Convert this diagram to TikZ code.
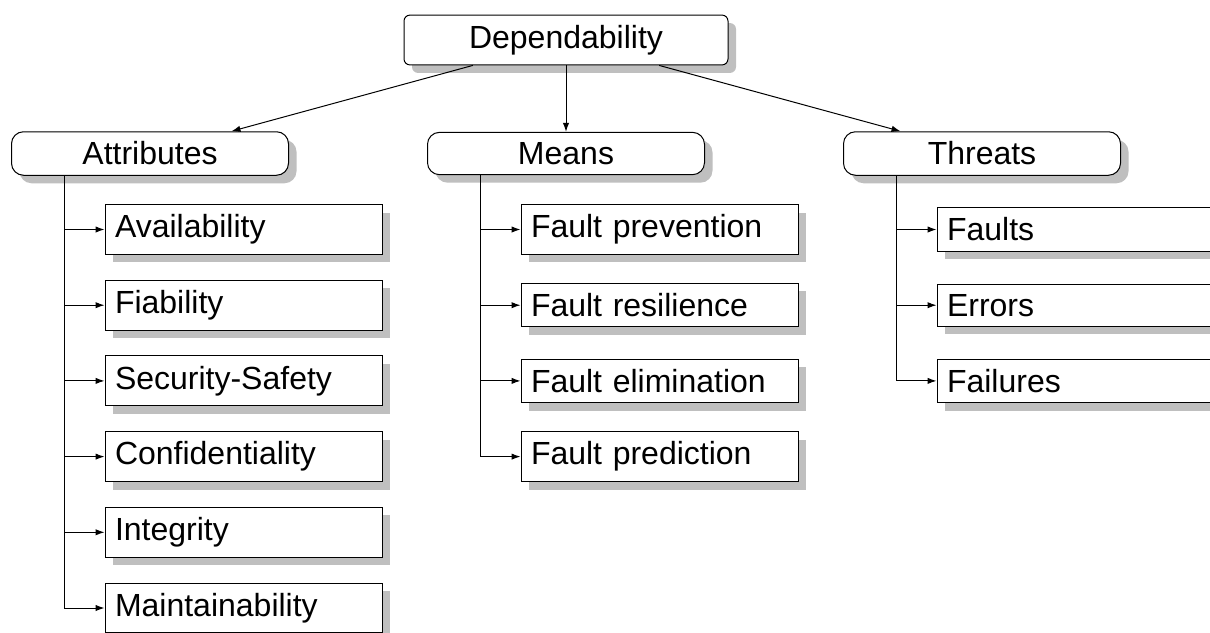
\documentclass[tikz,border=0pt]{standalone}
\usepackage{fontspec}
\setmainfont{Liberation Sans}
\usetikzlibrary{arrows.meta,shadows}
\begin{document}
\begin{tikzpicture}[x=0.5pt,y=-0.5pt,line width=0.5pt,font=\fontsize{16}{19}\selectfont,
  shade/.style={drop shadow={shadow xshift=4pt,shadow yshift=-4pt,fill=black!25,opacity=1}},
  root/.style={draw,fill=white,rounded corners=3pt,minimum width=162pt,inner sep=5pt,shade},
  group/.style={draw,fill=white,rounded corners=6pt,minimum width=138.5pt,inner sep=5pt,shade},
  leaf/.style={draw,fill=white,text width=128.5pt,align=left,inner sep=5pt,shade},
  tip/.style={-{Latex[length=4.5pt,width=3.2pt]}}]
\useasboundingbox (0,0) rectangle (1210,632);
\node[root] (dep) at (566,40) {Dependability};
\node[group] (attr) at (150,153.5) {Attributes};
\node[group] (means) at (566,153.5) {Means};
\node[group] (threats) at (982,153.5) {Threats};
\draw[tip] (dep) -- (attr);
\draw[tip] (dep) -- (means);
\draw[tip] (dep) -- (threats);
% attributes
\foreach \t [count=\i] in {Availability,Fiability,Security-Safety,Confidentiality,Integrity,Maintainability}
  {\node[leaf] (attr\i) at (243.5,{229.5+75.7*(\i-1)}) {\t};}
\coordinate (attrtop) at ([xshift=26.5pt]attr.south west);
\foreach \i in {1,...,6}{\draw[tip] (attrtop) |- (attr\i.west);}
% means
\foreach \t [count=\i] in {Fault prevention,Fault resilience,Fault elimination,Fault prediction}
  {\node[leaf] (means\i) at (659.5,{229.5+75.7*(\i-1)}) {\t};}
\coordinate (meanstop) at ([xshift=26.5pt]means.south west);
\foreach \i in {1,...,4}{\draw[tip] (meanstop) |- (means\i.west);}
% threats
\foreach \t [count=\i] in {Faults,Errors,Failures}
  {\node[leaf] (threats\i) at (1075.5,{229.5+75.7*(\i-1)}) {\t};}
\coordinate (threatstop) at ([xshift=26.5pt]threats.south west);
\foreach \i in {1,...,3}{\draw[tip] (threatstop) |- (threats\i.west);}
\end{tikzpicture}
\end{document}
